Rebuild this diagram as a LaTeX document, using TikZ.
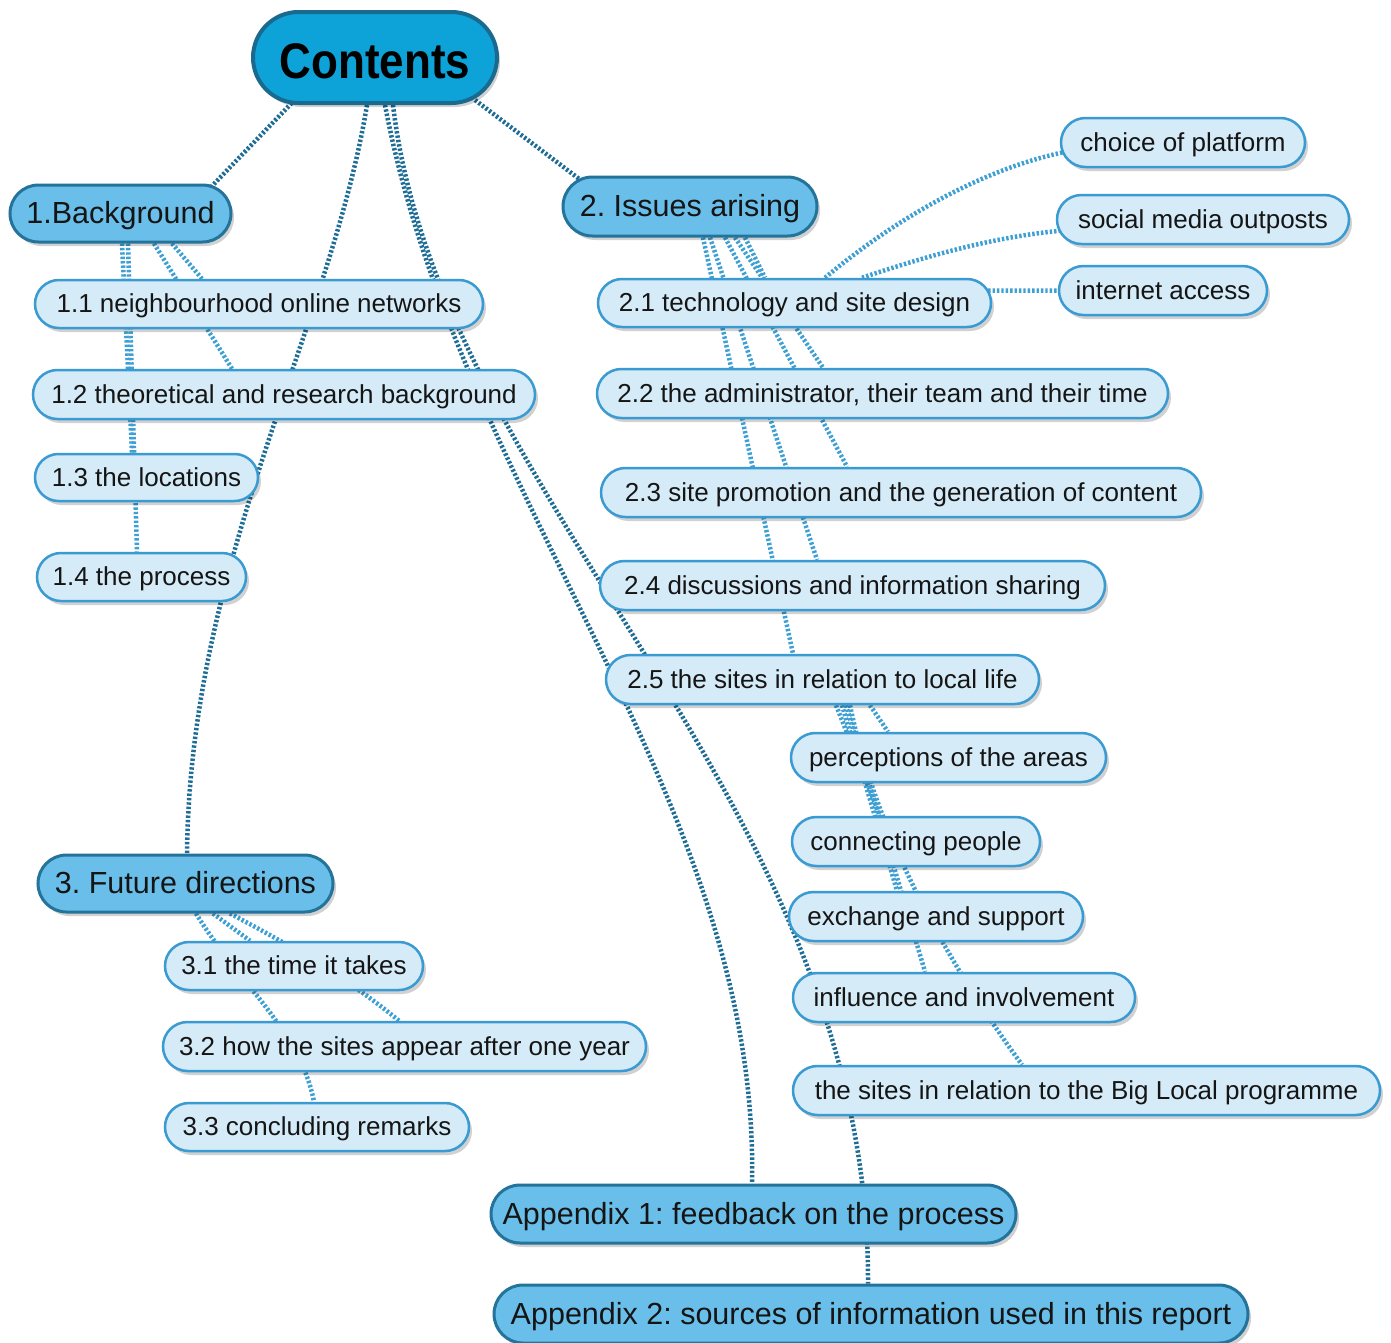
\documentclass[tikz,border=0pt]{standalone}
\usepackage{fontspec}
\usepackage{graphicx}
\setmainfont{Liberation Sans}
\usetikzlibrary{shapes.misc,shadows}
\definecolor{leaffill}{HTML}{D5EBF8}
\definecolor{leafborder}{HTML}{3A9AD2}
\definecolor{headfill}{HTML}{69BFE9}
\definecolor{headborder}{HTML}{23739B}
\definecolor{topfill}{HTML}{0EA3D8}
\definecolor{topborder}{HTML}{1A6A90}
\definecolor{darkline}{HTML}{1D6D96}
\definecolor{lightline}{HTML}{3D9FD4}
\definecolor{txt}{HTML}{151515}
\pgfdeclarelayer{bg}
\pgfsetlayers{bg,main}
\frenchspacing
\tikzset{
  shad/.style={drop shadow={shadow xshift=3pt,shadow yshift=-4pt,fill=black,opacity=0.18}},
  leaf/.style={rounded rectangle, draw=leafborder, fill=leaffill, line width=2.5pt, inner sep=0pt,
    font=\fontsize{26}{30}\selectfont, text=txt, text height=20pt, text depth=3pt, shad},
  head/.style={rounded rectangle, draw=headborder, fill=headfill, line width=3pt, inner sep=0pt,
    font=\fontsize{30.5}{34}\selectfont, text=txt, text height=24pt, text depth=4pt, shad},
  topnode/.style={rounded rectangle, draw=topborder, fill=topfill, line width=4pt, inner sep=0pt,
    font=\fontsize{50}{54}\selectfont\bfseries, text=black, text height=41.6pt, text depth=0pt, shad},
  dline/.style={draw=darkline, line width=4.5pt, dash pattern=on 2.4pt off 2pt},
  lline/.style={draw=lightline, line width=4.5pt, dash pattern=on 2.4pt off 2pt},
}
\begin{document}
\begin{tikzpicture}[x=1pt,y=-1pt]
\useasboundingbox (0,0) rectangle (1391,1342);
% nodes
\node[topnode, minimum width=244pt, minimum height=91pt] (C) at (375,57.5) {\scalebox{0.88}[1]{Contents}};
\node[head, minimum width=221pt, minimum height=57pt] (Bg) at (120.5,213.5) {1.Background};
\node[head, minimum width=254pt, minimum height=59pt] (Is) at (690,206.5) {2. Issues arising};
\node[head, minimum width=295pt, minimum height=57pt] (F) at (185.5,883.5) {3. Future directions};
\node[head, minimum width=525pt, minimum height=58pt] (A1) at (753.5,1214) {Appendix 1: feedback on the process};
\node[head, minimum width=754pt, minimum height=58pt] (A2) at (871,1314) {Appendix 2: sources of information used in this report};

\node[leaf, minimum width=448pt, minimum height=48pt] (n11) at (259,304) {1.1 neighbourhood online networks};
\node[leaf, minimum width=502pt, minimum height=49pt] (n12) at (284,394.5) {1.2 theoretical and research background};
\node[leaf, minimum width=223pt, minimum height=47pt] (n13) at (146.5,477.5) {1.3 the locations};
\node[leaf, minimum width=209pt, minimum height=48pt] (n14) at (141.5,577) {1.4 the process};

\node[leaf, minimum width=258pt, minimum height=48pt] (n31) at (294,966) {3.1 the time it takes};
\node[leaf, minimum width=483pt, minimum height=49pt] (n32) at (404.5,1046.5) {3.2 how the sites appear after one year};
\node[leaf, minimum width=304pt, minimum height=48pt] (n33) at (317,1127) {3.3 concluding remarks};

\node[leaf, minimum width=393pt, minimum height=48pt] (n21) at (794.5,303) {2.1 technology and site design};
\node[leaf, minimum width=244pt, minimum height=49pt] (plat) at (1183,142.5) {choice of platform};
\node[leaf, minimum width=292pt, minimum height=49pt] (soc) at (1203,219.5) {social media outposts};
\node[leaf, minimum width=208pt, minimum height=49pt] (inet) at (1163,290.5) {internet access};
\node[leaf, minimum width=571pt, minimum height=49pt] (n22) at (882.5,393.5) {2.2 the administrator, their team and their time};
\node[leaf, minimum width=600pt, minimum height=49pt] (n23) at (901,492.5) {2.3 site promotion and the generation of content};
\node[leaf, minimum width=505pt, minimum height=49pt] (n24) at (852.5,585.5) {2.4 discussions and information sharing};
\node[leaf, minimum width=433pt, minimum height=49pt] (n25) at (822.5,679.5) {2.5 the sites in relation to local life};
\node[leaf, minimum width=315pt, minimum height=49pt] (perc) at (948.5,757.5) {perceptions of the areas};
\node[leaf, minimum width=248pt, minimum height=49pt] (conn) at (916,841.5) {connecting people};
\node[leaf, minimum width=294pt, minimum height=49pt] (exch) at (936,916.5) {exchange and support};
\node[leaf, minimum width=342pt, minimum height=49pt] (infl) at (964,997.5) {influence and involvement};
\node[leaf, minimum width=587pt, minimum height=49pt] (bigl) at (1086.5,1090.5) {the sites in relation to the Big Local programme};

\begin{pgfonlayer}{bg}
\fill[white] (0,0) rectangle (1391,1342);
% Contents connectors
\draw[dline] ([xshift=-65pt,yshift=-26.5pt]C.center) -- ([xshift=79.5pt,yshift=15pt]Bg.center);
\draw[dline] ([xshift=65pt,yshift=-16pt]C.center) -- ([xshift=-90pt,yshift=11.8pt]Is.center);
\draw[dline] ([xshift=-8pt]C.south) .. controls (330,330) and (190,560) .. ([xshift=1.5pt]F.north);
\draw[dline] ([xshift=10pt]C.south) .. controls (460,500) and (760,800) .. ([xshift=-1.5pt]A1.north);
\draw[dline] ([xshift=18pt]C.south) .. controls (440,500) and (870,800) .. ([xshift=-3pt]A2.north);
% Background
\draw[lline] ([xshift=51.5pt]Bg.south) -- ([xshift=-57pt]n11.north);
\draw[lline] ([xshift=33.5pt]Bg.south) -- ([xshift=-52pt]n12.north);
\draw[lline] ([xshift=1.5pt]Bg.south) -- ([xshift=-14.5pt]n13.north);
\draw[lline] ([xshift=7.5pt]Bg.south) -- ([xshift=-4.5pt]n14.north);
% Issues
\draw[lline] ([xshift=55pt]Is.south) -- ([xshift=-29.5pt]n21.north);
\draw[lline] ([xshift=45pt]Is.south) -- ([xshift=-59.5pt]n22.north);
\draw[lline] ([xshift=35pt]Is.south) -- ([xshift=-54pt]n23.north);
\draw[lline] ([xshift=20pt]Is.south) -- ([xshift=-35.5pt]n24.north);
\draw[lline] ([xshift=13pt]Is.south) -- ([xshift=-29.5pt]n25.north);
% 2.1
\draw[lline] ([xshift=30.5pt]n21.north) .. controls (900,215) and (990,165) .. ([xshift=-108pt,yshift=-7.5pt]plat.center);
\draw[lline] ([xshift=67.5pt]n21.north) .. controls (930,255) and (1000,235) .. ([xshift=-133pt,yshift=-10.5pt]soc.center);
\draw[lline] ([yshift=12pt]n21.center) -- (inet.center);
% 2.5
\draw[lline] ([xshift=47.5pt]n25.south) -- ([xshift=-60.5pt]perc.north);
\draw[lline] ([xshift=13.5pt]n25.south) -- ([xshift=-36pt]conn.north);
\draw[lline] ([xshift=19.5pt]n25.south) -- ([xshift=-39pt]exch.north);
\draw[lline] ([xshift=23.5pt]n25.south) -- ([xshift=-39pt]infl.north);
\draw[lline] ([xshift=27.5pt]n25.south) .. controls (880,850) and (960,980) .. ([xshift=-64.5pt]bigl.north);
% Future
\draw[lline] ([xshift=27.5pt]F.south) -- ([xshift=-44pt]n31.north);
\draw[lline] ([xshift=44.5pt]F.south) .. controls (290,945) and (350,980) .. ([xshift=-5.5pt]n32.north);
\draw[lline] ([xshift=10.5pt]F.south) .. controls (240,985) and (300,1030) .. ([xshift=-3pt]n33.north);
\end{pgfonlayer}
\end{tikzpicture}
\end{document}
